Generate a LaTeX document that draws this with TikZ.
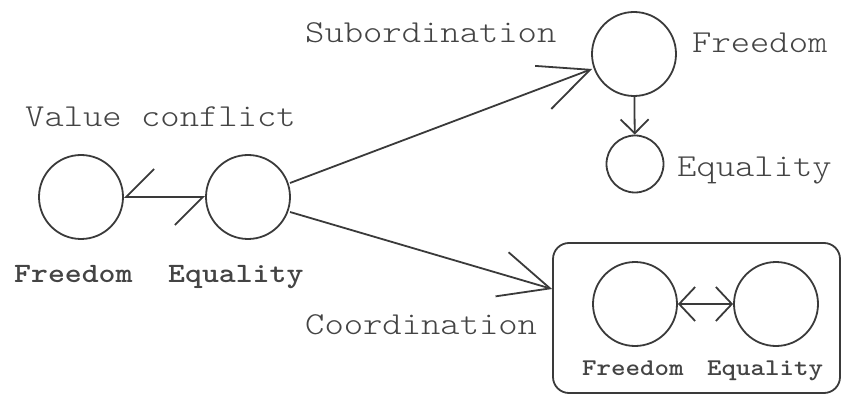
\documentclass[tikz,border=0pt]{standalone}
\usepackage{fontspec}
\newfontfamily\courfont[FakeStretch=1.15]{Latin Modern Mono Light}
\usetikzlibrary{arrows.meta}
\definecolor{ink}{HTML}{3A3A3A}
\definecolor{txt}{HTML}{444444}
\tikzset{
  ring/.style={circle,draw=ink,line width=1.8pt,inner sep=0pt,minimum size=#1},
  big/.style={font=\courfont\fontsize{32}{32}\selectfont,text=txt,anchor=base west,inner sep=0pt},
  mid/.style={font=\courfont\bfseries\fontsize{28}{28}\selectfont,text=txt,anchor=base west,inner sep=0pt},
  sml/.style={font=\courfont\bfseries\fontsize{24}{24}\selectfont,text=txt,anchor=base west,inner sep=0pt},
  conn/.style={draw=ink,line width=1.8pt},
  bigtip/.style={-{Straight Barb[length=50pt,width=46pt,line width=1.8pt]}},
}
\begin{document}
\begin{tikzpicture}[x=1pt,y=-1pt]
\useasboundingbox (0,0) rectangle (845,395);
% circles
\node[ring=84pt] (lf) at (81,197) {};
\node[ring=84pt] (le) at (248,197) {};
\node[ring=84pt] (tf) at (634,54) {};
\node[ring=57pt] (te) at (635,164) {};
\node[draw=ink,line width=1.8pt,rounded corners=16pt,minimum width=287pt,minimum height=150pt,inner sep=0pt] (box) at (696.5,318) {};
\node[ring=84pt] (bf) at (635,304) {};
\node[ring=84pt] (be) at (776,304) {};
% labels
\node[big] (lvc) at (25,127) {Value conflict};
\node[big] (lsub) at (305,43) {Subordination};
\node[big] (ltf) at (692,53) {Freedom};
\node[big] (lte) at (677,177) {Equality};
\node[big] (lco) at (305,334) {Coordination};
\node[mid] (llf) at (14,282) {Freedom};
\node[mid] (lle) at (168,282) {Equality};
\node[sml] (lbf) at (582,375) {Freedom};
\node[sml] (lbe) at (707,375) {Equality};
% connectors
\draw[conn,{Straight Barb[harpoon,swap,length=28pt,width=56pt,line width=1.8pt]}-{Straight Barb[harpoon,swap,length=28pt,width=56pt,line width=1.8pt]}] (lf) -- (le);
\coordinate (a1s) at (290,183);
\coordinate (a1e) at (592,69);
\draw[conn,bigtip] (a1s) -- (a1e);
\coordinate (a2s) at (290,212);
\coordinate (a2e) at (box.west |- 0,289);
\draw[conn,bigtip] (a2s) -- (a2e);
\draw[conn,-{Straight Barb[length=14pt,width=28pt,line width=1.8pt]}] (tf) -- (te);
\draw[conn,{Straight Barb[length=16pt,width=34pt,line width=1.8pt]}-{Straight Barb[length=16pt,width=34pt,line width=1.8pt]}] (bf) -- (be);
\end{tikzpicture}
\end{document}
